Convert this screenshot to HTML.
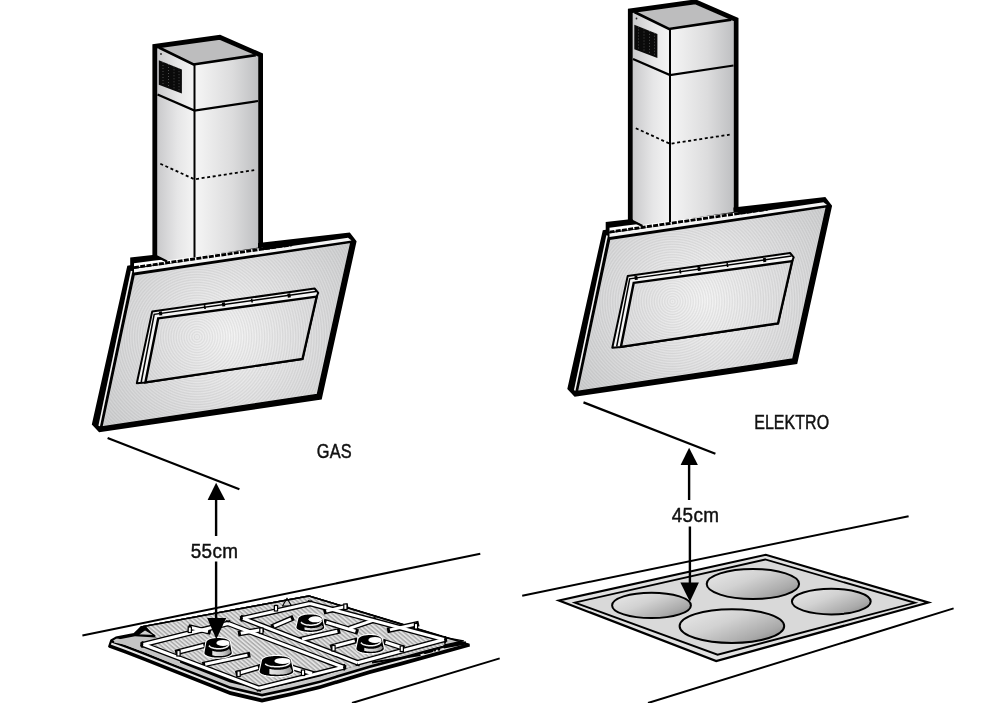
<!DOCTYPE html>
<html><head><meta charset="utf-8"><title>Hood installation</title>
<style>
html,body{margin:0;padding:0;background:#fff;width:993px;height:703px;overflow:hidden}
svg{display:block}
text{font-family:"Liberation Sans",sans-serif;fill:#111}
</style></head><body>
<svg width="993" height="703" viewBox="0 0 993 703">
<defs>
  <pattern id="hatch" patternUnits="userSpaceOnUse" width="3.2" height="3.2" patternTransform="rotate(40)">
    <rect width="3.2" height="3.2" fill="#e2e2e2"/><rect width="3.2" height="1.4" fill="#a9a9a9"/>
  </pattern>
  <linearGradient id="gBody" x1="0" y1="0" x2="1" y2="0">
    <stop offset="0" stop-color="#e8e8e8"/><stop offset="0.6" stop-color="#c8c8c8"/><stop offset="1" stop-color="#8c8c8c"/>
  </linearGradient>

  <linearGradient id="gLeft" x1="0" y1="0" x2="1" y2="0">
    <stop offset="0" stop-color="#c9c9cb"/><stop offset="0.55" stop-color="#e6e6e7"/><stop offset="1" stop-color="#f4f4f4"/>
  </linearGradient>
  <linearGradient id="gFront" x1="0" y1="0" x2="1" y2="0">
    <stop offset="0" stop-color="#f6f6f6"/><stop offset="0.6" stop-color="#dcdcdd"/><stop offset="1" stop-color="#bfc0c2"/>
  </linearGradient>
  <radialGradient id="gPanel" cx="230" cy="335" r="150" gradientUnits="userSpaceOnUse">
    <stop offset="0" stop-color="#f5f5f5"/><stop offset="0.5" stop-color="#e2e2e3"/><stop offset="1" stop-color="#d1d2d3"/>
  </radialGradient>
  <linearGradient id="gBurner" x1="0" y1="0.1" x2="1" y2="0.9">
    <stop offset="0" stop-color="#e8e8e8"/><stop offset="0.4" stop-color="#d2d2d2"/><stop offset="0.78" stop-color="#aaaaaa"/><stop offset="1" stop-color="#868686"/>
  </linearGradient>

  <radialGradient id="gRings" cx="197" cy="337" r="2.6" gradientUnits="userSpaceOnUse" spreadMethod="repeat">
    <stop offset="0" stop-color="#000" stop-opacity="0.07"/><stop offset="0.5" stop-color="#000" stop-opacity="0"/><stop offset="1" stop-color="#000" stop-opacity="0.07"/>
  </radialGradient>
  <g id="hood">
    <!-- panel silhouette -->
    <polygon points="130.2,257.6 349.8,232.4 356.6,241.3 321.7,399.5 99.1,432.3 91.8,424.4 127.3,265.7 130.2,265.3" fill="#000"/>
    <!-- white top strips -->
    <polygon points="134,263.2 153,260.8 263,247.8 263,252 134,267.5" fill="#fff"/>
    <polygon points="134,268.8 290,246.2 348,237.8 351.5,240.5 134,272.6" fill="#f4f4f4"/>
    <line x1="134" y1="267.6" x2="292" y2="244.8" stroke="#000" stroke-width="2.8" stroke-dasharray="5,1.3"/>
    <!-- chimney faces -->
    <polygon points="157,47 193.5,64.5 194.5,256.6 166.5,260.5 157,256" fill="url(#gLeft)"/>
    <polygon points="193.5,64.5 258,55 258,247.6 194.5,256.8" fill="url(#gFront)"/>
    <polygon points="158.9,47.5 218,38.7 255.8,55.1 193.5,64.5" fill="#bdbdbe"/>
    <!-- grille -->
    <polygon points="158.8,60.2 181.9,69.4 181.9,93.4 158.8,84.7" fill="#0a0a0a"/>
    <g stroke="#7a7a7a" stroke-width="0.6" stroke-dasharray="1,2">
      <line x1="163" y1="62" x2="163" y2="86"/>
      <line x1="168.5" y1="64" x2="168.5" y2="88"/>
      <line x1="174" y1="66.3" x2="174" y2="90.3"/>
      <line x1="179" y1="68.2" x2="179" y2="92.2"/>
    </g>
    <circle cx="161" cy="54" r="0.9" fill="#222"/>
    <!-- chimney outlines -->
    <polyline points="154.8,256.5 154.8,46.4 219.8,37.3 260.6,55 260.6,246" fill="none" stroke="#000" stroke-width="4.8" stroke-linejoin="miter"/>
    <line x1="156" y1="256" x2="167" y2="261.5" stroke="#000" stroke-width="2.2"/>
    <polyline points="158.9,47.5 193.5,64.5 255.8,55.1" fill="none" stroke="#000" stroke-width="2.6"/>
    <line x1="194.5" y1="64" x2="194.5" y2="257.5" stroke="#000" stroke-width="2"/>
    <polyline points="157.5,94.4 194.5,110.5 258,101" fill="none" stroke="#000" stroke-width="2.2"/>
    <polyline points="160.3,163.7 194.4,179.3 254.2,170.1" fill="none" stroke="#000" stroke-width="1.8" stroke-dasharray="3,2.6"/>
    <!-- white left line -->
    <line x1="131.6" y1="271" x2="99.2" y2="426" stroke="#f4f4f4" stroke-width="1.6"/>
    <!-- face -->
    <polygon points="134.1,274.6 351,242.3 317.4,394.6 101.7,427" fill="url(#gPanel)" stroke="#000" stroke-width="1.6"/>
    <polygon points="134.9,275.4 350,243.3 316.8,393.8 102.6,426.2" fill="url(#gRings)"/>
    <!-- window frame -->
    <polygon points="152.2,311.6 314.6,288.5 318.2,292.8 316.7,296.3 302.5,358.9 145.4,382.4 136.8,383.2" fill="#f4f4f4" stroke="#000" stroke-width="2" stroke-linejoin="round"/>
    <polygon points="158.2,318.4 316.7,296.6 302.5,358.9 145.4,382.4" fill="url(#gPanel)" stroke="#000" stroke-width="2.4"/>
    <polygon points="159.4,319.6 315.2,298 301.5,357.8 146.8,381" fill="url(#gRings)"/>
    <polyline points="141.2,382 154.2,314.3 316,291.6" fill="none" stroke="#000" stroke-width="1.5"/>
    <g fill="#000">
      <rect x="159" y="311.5" width="3" height="4" transform="rotate(-8 160 313)"/>
      <rect x="204" y="305" width="1.6" height="4" transform="rotate(-8 205 307)"/>
      <rect x="222" y="302.5" width="3" height="4" transform="rotate(-8 223 304)"/>
      <rect x="251" y="298.5" width="1.6" height="4" transform="rotate(-8 252 300)"/>
      <rect x="287.5" y="293.5" width="3" height="4" transform="rotate(-8 289 295)"/>
    </g>
  </g>
</defs>

<use href="#hood"/>
<use href="#hood" transform="translate(475.5,-35.5)"/>

<!-- lines under hoods -->
<line x1="107.6" y1="438" x2="239.4" y2="489.2" stroke="#000" stroke-width="2.2"/>
<line x1="583.5" y1="402.4" x2="715.4" y2="453.7" stroke="#000" stroke-width="2.2"/>

<!-- text -->
<g style="will-change:transform" font-size="19.5" stroke="#111" stroke-width="0.45">
<text transform="translate(316.8,457.6) scale(0.84,1)" textLength="41.6" lengthAdjust="spacing">GAS</text>
<text transform="translate(754.2,428.8) scale(0.82,1)" textLength="91.4" lengthAdjust="spacing">ELEKTRO</text>
<text transform="translate(190.8,557.6) scale(0.97,1)" textLength="48.6" lengthAdjust="spacing">55cm</text>
<text transform="translate(671.8,522.0) scale(0.97,1)" textLength="48.6" lengthAdjust="spacing">45cm</text>
</g>
<!-- countertop lines -->
<line x1="82.4" y1="635.5" x2="480.3" y2="553.8" stroke="#000" stroke-width="2"/>
<line x1="352" y1="703" x2="499.7" y2="658.4" stroke="#000" stroke-width="2"/>
<line x1="522.2" y1="595.7" x2="908.6" y2="516.2" stroke="#000" stroke-width="2"/>
<line x1="648" y1="703" x2="953.6" y2="608.4" stroke="#000" stroke-width="2"/>

<!-- electric hob -->
<polygon points="559,600.5 765.8,554.8 928.4,602.5 716.2,661" fill="#e2e2e2" stroke="#000" stroke-width="2.2" stroke-linejoin="miter"/>
<polygon points="574.8,602.6 765.2,559.5 915,602.8 717.6,654.7" fill="#d9d9d9" stroke="#000" stroke-width="1.8"/>
<ellipse cx="651.5" cy="605.4" rx="39.4" ry="12.7" fill="url(#gBurner)" stroke="#000" stroke-width="2"/>
<ellipse cx="752.9" cy="584" rx="46.2" ry="15" fill="url(#gBurner)" stroke="#000" stroke-width="2"/>
<ellipse cx="831.3" cy="601.6" rx="39.4" ry="12.8" fill="url(#gBurner)" stroke="#000" stroke-width="2"/>
<ellipse cx="731.9" cy="626.1" rx="52.3" ry="16.9" fill="url(#gBurner)" stroke="#000" stroke-width="2"/>

<g id="gas">
<clipPath id="hobclip"><polygon points="109.3,645.5 111.5,640.0 116.0,637.2 134.0,633.8 141.0,626.2 309.0,595.2 469.5,644.3 470.0,646.5 400.0,665.9 370.0,673.9 320.0,689.0 290.0,696.3 262.0,702.4 230.0,694.9 172.0,672.0 145.0,661.2 125.0,653.5 108.5,647.5"/></clipPath>
<polygon points="109.3,645.5 111.5,640.0 116.0,637.2 134.0,633.8 141.0,626.2 309.0,595.2 469.5,644.3 470.0,646.5 400.0,665.9 370.0,673.9 320.0,689.0 290.0,696.3 262.0,702.4 230.0,694.9 172.0,672.0 145.0,661.2 125.0,653.5 108.5,647.5" fill="#000"/>
<g clip-path="url(#hobclip)">
<polygon points="109.3,645.5 111.5,640.0 116.0,637.2 134.0,633.8 141.0,626.2 309.0,595.2 469.5,644.3 470.0,646.5 400.0,665.9 370.0,673.9 320.0,689.0 290.0,696.3 262.0,702.4 230.0,694.9 172.0,672.0 145.0,661.2 125.0,653.5 108.5,647.5" transform="translate(0,-3.8)" fill="#e6e6e6"/>
<polygon points="109.3,645.5 111.5,640.0 116.0,637.2 134.0,633.8 141.0,626.2 309.0,595.2 469.5,644.3 470.0,646.5 400.0,665.9 370.0,673.9 320.0,689.0 290.0,696.3 262.0,702.4 230.0,694.9 172.0,672.0 145.0,661.2 125.0,653.5 108.5,647.5" transform="translate(0,-5.9)" fill="#000"/>
<polygon points="109.3,645.5 111.5,640.0 116.0,637.2 134.0,633.8 141.0,626.2 309.0,595.2 469.5,644.3 470.0,646.5 400.0,665.9 370.0,673.9 320.0,689.0 290.0,696.3 262.0,702.4 230.0,694.9 172.0,672.0 145.0,661.2 125.0,653.5 108.5,647.5" transform="translate(0,-8.6)" fill="#c9c9c9"/>
<polygon points="109.3,645.5 111.5,640.0 116.0,637.2 134.0,633.8 141.0,626.2 309.0,595.2 469.5,644.3 470.0,646.5 400.0,665.9 370.0,673.9 320.0,689.0 290.0,696.3 262.0,702.4 230.0,694.9 172.0,672.0 145.0,661.2 125.0,653.5 108.5,647.5" transform="translate(0,-12.5)" fill="#000"/>
<polygon points="146.0,626.5 309.0,596.8 455.0,641.5 452.0,643.5 261.0,688.5 143.0,644.0 156.0,637.5" fill="url(#hatch)"/>
</g>
<polygon points="114.0,641.5 117.0,639.8 135.0,636.2 139.0,636.5 156.0,637.6 150.0,641.0 143.0,645.0 180.0,658.5 180.0,666.4 145.0,652.4 125.0,644.7 114.0,642.5" fill="#c4c4c4"/>
<polyline points="109.0,647.0 111.2,640.5 116.0,637.6 134.0,634.2 141.5,627.3" fill="none" stroke="#000" stroke-width="2.2" stroke-linejoin="round"/>
<polygon points="137.9,634.8 145,629.8 154.8,635.6" fill="#cfcfcf" stroke="#000" stroke-width="1.2" stroke-linejoin="round"/>
<polygon points="444.5,637.5 463.5,640.8 445,644.8" fill="#c8c8c8" stroke="#000" stroke-width="1.3" stroke-linejoin="round"/>
<polygon points="282.5,606 287,598.2 291.5,606" fill="#cfcfcf" stroke="#000" stroke-width="1.1" stroke-linejoin="round"/>
<polyline points="141.0,627.0 309.0,596.0 469.5,644.6" fill="none" stroke="#000" stroke-width="1.6"/>
<line x1="143.5" y1="644.5" x2="228.0" y2="623.5" stroke="#000" stroke-width="5.6" stroke-linecap="square"/>
<line x1="228.0" y1="623.5" x2="343.0" y2="667.2" stroke="#000" stroke-width="5.6" stroke-linecap="square"/>
<line x1="343.0" y1="667.2" x2="259.0" y2="688.3" stroke="#000" stroke-width="5.6" stroke-linecap="square"/>
<line x1="259.0" y1="688.3" x2="143.5" y2="644.5" stroke="#000" stroke-width="5.6" stroke-linecap="square"/>
<line x1="243.0" y1="618.4" x2="310.0" y2="603.5" stroke="#000" stroke-width="5.6" stroke-linecap="square"/>
<line x1="310.0" y1="603.5" x2="444.0" y2="639.5" stroke="#000" stroke-width="5.6" stroke-linecap="square"/>
<line x1="444.0" y1="639.5" x2="357.7" y2="662.8" stroke="#000" stroke-width="5.6" stroke-linecap="square"/>
<line x1="357.7" y1="662.8" x2="243.0" y2="618.4" stroke="#000" stroke-width="5.6" stroke-linecap="square"/>
<line x1="191.0" y1="627.5" x2="208.0" y2="631.5" stroke="#000" stroke-width="5.6" stroke-linecap="square"/>
<line x1="178.0" y1="652.0" x2="203.5" y2="645.5" stroke="#000" stroke-width="5.6" stroke-linecap="square"/>
<line x1="240.8" y1="633.2" x2="261.0" y2="629.7" stroke="#000" stroke-width="5.6" stroke-linecap="square"/>
<line x1="205.2" y1="664.2" x2="247.5" y2="655.1" stroke="#000" stroke-width="5.6" stroke-linecap="square"/>
<line x1="238.4" y1="673.2" x2="258.0" y2="667.5" stroke="#000" stroke-width="5.6" stroke-linecap="square"/>
<line x1="274.0" y1="626.1" x2="291.0" y2="618.8" stroke="#000" stroke-width="5.6" stroke-linecap="square"/>
<line x1="326.3" y1="611.1" x2="345.4" y2="606.6" stroke="#000" stroke-width="5.6" stroke-linecap="square"/>
<line x1="349.5" y1="628.3" x2="373.6" y2="620.2" stroke="#000" stroke-width="5.6" stroke-linecap="square"/>
<line x1="302.1" y1="639.3" x2="337.4" y2="631.3" stroke="#000" stroke-width="5.6" stroke-linecap="square"/>
<line x1="333.0" y1="646.7" x2="354.8" y2="640.9" stroke="#000" stroke-width="5.6" stroke-linecap="square"/>
<line x1="385.5" y1="642.3" x2="401.6" y2="647.5" stroke="#000" stroke-width="5.6" stroke-linecap="square"/>
<line x1="389.9" y1="629.9" x2="416.2" y2="624.1" stroke="#000" stroke-width="5.6" stroke-linecap="square"/>
<line x1="326.3" y1="622.2" x2="355.5" y2="631.3" stroke="#000" stroke-width="5.6" stroke-linecap="square"/>
<line x1="292.0" y1="667.5" x2="312.0" y2="673.5" stroke="#000" stroke-width="5.6" stroke-linecap="square"/>
<line x1="143.5" y1="644.5" x2="228.0" y2="623.5" stroke="#fff" stroke-width="3.0" stroke-linecap="butt"/>
<line x1="228.0" y1="623.5" x2="343.0" y2="667.2" stroke="#fff" stroke-width="3.0" stroke-linecap="butt"/>
<line x1="343.0" y1="667.2" x2="259.0" y2="688.3" stroke="#fff" stroke-width="3.0" stroke-linecap="butt"/>
<line x1="259.0" y1="688.3" x2="143.5" y2="644.5" stroke="#fff" stroke-width="3.0" stroke-linecap="butt"/>
<line x1="243.0" y1="618.4" x2="310.0" y2="603.5" stroke="#fff" stroke-width="3.0" stroke-linecap="butt"/>
<line x1="310.0" y1="603.5" x2="444.0" y2="639.5" stroke="#fff" stroke-width="3.0" stroke-linecap="butt"/>
<line x1="444.0" y1="639.5" x2="357.7" y2="662.8" stroke="#fff" stroke-width="3.0" stroke-linecap="butt"/>
<line x1="357.7" y1="662.8" x2="243.0" y2="618.4" stroke="#fff" stroke-width="3.0" stroke-linecap="butt"/>
<line x1="191.0" y1="627.5" x2="208.0" y2="631.5" stroke="#fff" stroke-width="3.0" stroke-linecap="butt"/>
<line x1="178.0" y1="652.0" x2="203.5" y2="645.5" stroke="#fff" stroke-width="3.0" stroke-linecap="butt"/>
<line x1="240.8" y1="633.2" x2="261.0" y2="629.7" stroke="#fff" stroke-width="3.0" stroke-linecap="butt"/>
<line x1="205.2" y1="664.2" x2="247.5" y2="655.1" stroke="#fff" stroke-width="3.0" stroke-linecap="butt"/>
<line x1="238.4" y1="673.2" x2="258.0" y2="667.5" stroke="#fff" stroke-width="3.0" stroke-linecap="butt"/>
<line x1="274.0" y1="626.1" x2="291.0" y2="618.8" stroke="#fff" stroke-width="3.0" stroke-linecap="butt"/>
<line x1="326.3" y1="611.1" x2="345.4" y2="606.6" stroke="#fff" stroke-width="3.0" stroke-linecap="butt"/>
<line x1="349.5" y1="628.3" x2="373.6" y2="620.2" stroke="#fff" stroke-width="3.0" stroke-linecap="butt"/>
<line x1="302.1" y1="639.3" x2="337.4" y2="631.3" stroke="#fff" stroke-width="3.0" stroke-linecap="butt"/>
<line x1="333.0" y1="646.7" x2="354.8" y2="640.9" stroke="#fff" stroke-width="3.0" stroke-linecap="butt"/>
<line x1="385.5" y1="642.3" x2="401.6" y2="647.5" stroke="#fff" stroke-width="3.0" stroke-linecap="butt"/>
<line x1="389.9" y1="629.9" x2="416.2" y2="624.1" stroke="#fff" stroke-width="3.0" stroke-linecap="butt"/>
<line x1="326.3" y1="622.2" x2="355.5" y2="631.3" stroke="#fff" stroke-width="3.0" stroke-linecap="butt"/>
<line x1="292.0" y1="667.5" x2="312.0" y2="673.5" stroke="#fff" stroke-width="3.0" stroke-linecap="butt"/>
<rect x="188.2" y="627.0" width="3.2" height="5.5" fill="#fff" stroke="#000" stroke-width="1.2"/>
<rect x="176.9" y="650.5" width="3.2" height="5.5" fill="#fff" stroke="#000" stroke-width="1.2"/>
<rect x="237.0" y="671.0" width="3.2" height="5.5" fill="#fff" stroke="#000" stroke-width="1.2"/>
<rect x="301.4" y="670.0" width="3.2" height="5.5" fill="#fff" stroke="#000" stroke-width="1.2"/>
<rect x="414.4" y="623.5" width="3.2" height="5.5" fill="#fff" stroke="#000" stroke-width="1.2"/>
<rect x="259.8" y="628.0" width="3.2" height="5.5" fill="#fff" stroke="#000" stroke-width="1.2"/>
<rect x="343.8" y="604.0" width="3.2" height="5.5" fill="#fff" stroke="#000" stroke-width="1.2"/>
<rect x="274.4" y="605.5" width="3.2" height="5.5" fill="#fff" stroke="#000" stroke-width="1.2"/>
<rect x="331.9" y="645.5" width="3.2" height="5.5" fill="#fff" stroke="#000" stroke-width="1.2"/>
<rect x="400.2" y="646.0" width="3.2" height="5.5" fill="#fff" stroke="#000" stroke-width="1.2"/>
<polygon points="205.2,642.6 205.3,642.1 205.4,641.6 205.7,641.1 206.0,640.7 206.4,640.2 206.9,639.8 207.5,639.3 208.2,638.9 209.0,638.6 209.8,638.2 210.7,637.9 211.7,637.7 212.7,637.4 213.7,637.2 214.8,637.1 215.9,637.0 217.0,636.9 218.1,636.9 219.2,636.9 220.3,637.0 221.4,637.1 222.5,637.2 223.5,637.4 224.5,637.7 225.5,637.9 226.4,638.2 227.2,638.6 228.0,638.9 228.7,639.3 229.3,639.8 229.8,640.2 230.2,640.7 230.5,641.1 230.8,641.6 230.9,642.1 231.0,642.6 232.9,653.0 232.8,653.5 232.7,654.0 232.4,654.5 232.0,654.9 231.5,655.4 230.9,655.9 230.2,656.3 229.4,656.7 228.6,657.0 227.6,657.4 226.6,657.7 225.5,657.9 224.4,658.2 223.2,658.4 221.9,658.5 220.7,658.6 219.4,658.7 218.1,658.7 216.8,658.7 215.5,658.6 214.3,658.5 213.0,658.4 211.8,658.2 210.7,657.9 209.6,657.7 208.6,657.4 207.6,657.0 206.8,656.7 206.0,656.3 205.3,655.9 204.7,655.4 204.2,654.9 203.8,654.5 203.5,654.0 203.4,653.5 203.3,653.0" fill="#fff"/>
<polygon points="206.3,642.6 206.4,642.2 206.5,641.8 206.7,641.4 207.0,641.0 207.4,640.7 207.9,640.3 208.4,640.0 209.1,639.6 209.8,639.3 210.5,639.1 211.3,638.8 212.2,638.6 213.1,638.4 214.1,638.3 215.1,638.2 216.1,638.1 217.1,638.0 218.1,638.0 219.1,638.0 220.1,638.1 221.1,638.2 222.1,638.3 223.1,638.4 224.0,638.6 224.9,638.8 225.7,639.1 226.4,639.3 227.1,639.6 227.8,640.0 228.3,640.3 228.8,640.7 229.2,641.0 229.5,641.4 229.7,641.8 229.8,642.2 229.9,642.6 231.8,653.0 231.7,653.4 231.6,653.8 231.3,654.2 231.0,654.6 230.5,654.9 230.0,655.3 229.3,655.6 228.6,656.0 227.8,656.3 226.9,656.5 226.0,656.8 225.0,657.0 223.9,657.2 222.8,657.3 221.6,657.4 220.5,657.5 219.3,657.6 218.1,657.6 216.9,657.6 215.7,657.5 214.6,657.4 213.4,657.3 212.3,657.2 211.3,657.0 210.2,656.8 209.3,656.5 208.4,656.3 207.6,656.0 206.9,655.6 206.2,655.3 205.7,654.9 205.2,654.6 204.9,654.2 204.6,653.8 204.5,653.4 204.4,653.0" fill="#000"/>
<polygon points="212.3,650.7 213.2,651.0 214.0,651.2 214.9,651.4 215.7,651.6 216.5,651.7 217.4,651.7 218.2,651.8 219.0,651.8 219.9,651.8 220.7,651.7 221.5,651.7 222.4,651.6 223.2,651.4 224.0,651.3 224.9,651.1 225.7,650.8 226.6,650.5 227.4,650.1 228.2,649.5 229.1,648.8 230.8,652.1 229.9,653.5 229.0,654.1 228.1,654.6 227.1,655.0 226.2,655.2 225.3,655.5 224.4,655.7 223.4,655.8 222.5,655.9 221.6,656.0 220.7,656.1 219.7,656.1 218.8,656.1 217.9,656.1 217.0,656.0 216.0,656.0 215.1,655.9 214.2,655.7 213.3,655.5 212.3,655.3" fill="url(#gBody)"/>
<polyline points="208.9,645.6 209.8,646.5 210.6,647.1 211.5,647.5 212.3,647.8 213.2,648.1 214.0,648.3 214.9,648.5 215.7,648.6 216.6,648.7 217.4,648.8 218.3,648.8 219.1,648.8 220.0,648.8 220.8,648.7 221.6,648.6 222.5,648.4 223.3,648.3 224.2,648.0 225.0,647.8 225.9,647.4 226.7,647.0 227.6,646.4 228.4,645.4 229.3,644.2" fill="none" stroke="#f2f2f2" stroke-width="1.5"/>
<ellipse cx="223.0" cy="642.9" rx="6.6" ry="3.0" fill="#fff"/>
<polygon points="260.9,660.6 260.9,660.1 261.1,659.6 261.4,659.1 261.8,658.7 262.3,658.2 262.9,657.8 263.7,657.3 264.5,656.9 265.4,656.6 266.4,656.2 267.5,655.9 268.7,655.7 269.9,655.4 271.1,655.2 272.4,655.1 273.7,655.0 275.1,654.9 276.5,654.9 277.8,654.9 279.2,655.0 280.5,655.1 281.8,655.2 283.0,655.4 284.2,655.7 285.4,655.9 286.5,656.2 287.5,656.6 288.4,656.9 289.2,657.3 290.0,657.8 290.6,658.2 291.1,658.7 291.5,659.1 291.8,659.6 292.0,660.1 292.0,660.6 294.4,671.6 294.3,672.1 294.1,672.6 293.8,673.1 293.3,673.5 292.7,674.0 292.0,674.5 291.2,674.9 290.2,675.3 289.1,675.6 288.0,676.0 286.7,676.3 285.4,676.5 284.0,676.8 282.6,677.0 281.1,677.1 279.6,677.2 278.0,677.3 276.5,677.3 274.9,677.3 273.3,677.2 271.8,677.1 270.3,677.0 268.9,676.8 267.5,676.5 266.2,676.3 264.9,676.0 263.8,675.6 262.7,675.3 261.7,674.9 260.9,674.5 260.2,674.0 259.6,673.5 259.1,673.1 258.8,672.6 258.6,672.1 258.5,671.6" fill="#fff"/>
<polygon points="262.0,660.6 262.0,660.2 262.2,659.8 262.5,659.4 262.8,659.0 263.3,658.7 263.9,658.3 264.6,658.0 265.3,657.6 266.2,657.3 267.1,657.1 268.1,656.8 269.2,656.6 270.3,656.4 271.5,656.3 272.7,656.2 273.9,656.1 275.2,656.0 276.5,656.0 277.7,656.0 279.0,656.1 280.2,656.2 281.4,656.3 282.6,656.4 283.7,656.6 284.8,656.8 285.8,657.1 286.7,657.3 287.6,657.6 288.3,658.0 289.0,658.3 289.6,658.7 290.1,659.0 290.4,659.4 290.7,659.8 290.9,660.2 290.9,660.6 293.3,671.6 293.2,672.0 293.0,672.4 292.7,672.8 292.3,673.2 291.7,673.5 291.0,673.9 290.3,674.2 289.4,674.6 288.4,674.9 287.3,675.1 286.1,675.4 284.9,675.6 283.6,675.8 282.2,675.9 280.8,676.0 279.4,676.1 277.9,676.2 276.5,676.2 275.0,676.2 273.5,676.1 272.1,676.0 270.7,675.9 269.3,675.8 268.0,675.6 266.8,675.4 265.6,675.1 264.5,674.9 263.5,674.6 262.6,674.2 261.9,673.9 261.2,673.5 260.6,673.2 260.2,672.8 259.9,672.4 259.7,672.0 259.6,671.6" fill="#000"/>
<polygon points="269.4,668.9 270.4,669.1 271.4,669.3 272.5,669.5 273.5,669.6 274.5,669.7 275.5,669.8 276.6,669.8 277.6,669.8 278.6,669.8 279.6,669.7 280.7,669.7 281.7,669.6 282.7,669.4 283.8,669.2 284.8,669.0 285.8,668.8 286.8,668.5 287.9,668.1 288.9,667.5 289.9,666.8 292.1,670.7 291.0,672.2 289.8,672.8 288.7,673.3 287.6,673.6 286.4,673.9 285.3,674.1 284.2,674.3 283.0,674.4 281.9,674.5 280.7,674.6 279.6,674.7 278.5,674.7 277.3,674.7 276.2,674.7 275.1,674.6 273.9,674.6 272.8,674.5 271.6,674.4 270.5,674.2 269.4,674.0" fill="url(#gBody)"/>
<polyline points="265.1,664.0 266.2,664.7 267.2,665.2 268.3,665.6 269.3,665.9 270.4,666.2 271.4,666.4 272.5,666.5 273.5,666.6 274.5,666.7 275.6,666.8 276.6,666.8 277.7,666.8 278.7,666.8 279.8,666.7 280.8,666.6 281.9,666.5 282.9,666.3 283.9,666.1 285.0,665.8 286.0,665.5 287.1,665.0 288.1,664.5 289.2,663.7 290.2,662.2" fill="none" stroke="#f2f2f2" stroke-width="1.5"/>
<ellipse cx="282.5" cy="660.9" rx="8.1" ry="3.0" fill="#fff"/>
<polygon points="297.2,619.0 297.3,618.5 297.4,618.0 297.7,617.5 298.0,617.1 298.5,616.6 299.0,616.1 299.6,615.7 300.3,615.3 301.1,615.0 301.9,614.6 302.8,614.3 303.8,614.1 304.8,613.8 305.8,613.6 306.9,613.5 308.0,613.4 309.2,613.3 310.3,613.3 311.4,613.3 312.6,613.4 313.7,613.5 314.8,613.6 315.8,613.8 316.8,614.1 317.8,614.3 318.7,614.6 319.5,615.0 320.3,615.3 321.0,615.7 321.6,616.1 322.1,616.6 322.6,617.1 322.9,617.5 323.2,618.0 323.3,618.5 323.4,619.0 325.3,627.3 325.2,627.8 325.1,628.3 324.8,628.8 324.4,629.2 323.9,629.7 323.3,630.1 322.6,630.6 321.8,631.0 320.9,631.3 319.9,631.7 318.9,632.0 317.8,632.2 316.6,632.5 315.4,632.7 314.2,632.8 312.9,632.9 311.6,633.0 310.3,633.0 309.0,633.0 307.7,632.9 306.4,632.8 305.2,632.7 304.0,632.5 302.8,632.2 301.7,632.0 300.7,631.7 299.7,631.3 298.8,631.0 298.0,630.6 297.3,630.1 296.7,629.7 296.2,629.2 295.8,628.8 295.5,628.3 295.4,627.8 295.3,627.3" fill="#fff"/>
<polygon points="298.3,619.0 298.4,618.6 298.5,618.2 298.8,617.8 299.1,617.4 299.5,617.1 299.9,616.7 300.5,616.4 301.1,616.0 301.8,615.7 302.6,615.5 303.4,615.2 304.3,615.0 305.2,614.8 306.2,614.7 307.2,614.6 308.2,614.5 309.3,614.4 310.3,614.4 311.3,614.4 312.4,614.5 313.4,614.6 314.4,614.7 315.4,614.8 316.3,615.0 317.2,615.2 318.0,615.5 318.8,615.7 319.5,616.0 320.1,616.4 320.7,616.7 321.1,617.1 321.5,617.4 321.8,617.8 322.1,618.2 322.2,618.6 322.3,619.0 324.2,627.3 324.1,627.7 324.0,628.1 323.7,628.5 323.4,628.9 322.9,629.2 322.3,629.6 321.7,629.9 320.9,630.3 320.1,630.6 319.2,630.8 318.3,631.1 317.2,631.3 316.2,631.5 315.1,631.6 313.9,631.7 312.7,631.8 311.5,631.9 310.3,631.9 309.1,631.9 307.9,631.8 306.7,631.7 305.5,631.6 304.4,631.5 303.3,631.3 302.3,631.1 301.4,630.8 300.5,630.6 299.7,630.3 298.9,629.9 298.3,629.6 297.7,629.2 297.2,628.9 296.9,628.5 296.6,628.1 296.5,627.7 296.4,627.3" fill="#000"/>
<polygon points="304.5,627.2 305.3,627.4 306.2,627.6 307.0,627.8 307.9,628.0 308.7,628.1 309.5,628.1 310.4,628.2 311.2,628.2 312.1,628.2 312.9,628.1 313.8,628.1 314.6,628.0 315.5,627.8 316.3,627.7 317.2,627.5 318.0,627.2 318.9,626.9 319.7,626.5 320.6,625.9 321.4,625.2 323.2,626.4 322.3,627.8 321.4,628.4 320.4,628.9 319.5,629.3 318.5,629.5 317.6,629.8 316.7,630.0 315.7,630.1 314.8,630.2 313.8,630.3 312.9,630.4 312.0,630.4 311.0,630.4 310.1,630.4 309.2,630.3 308.2,630.3 307.3,630.2 306.3,630.0 305.4,629.9 304.5,629.6" fill="url(#gBody)"/>
<polyline points="301.0,622.1 301.8,622.9 302.7,623.5 303.6,623.9 304.4,624.2 305.3,624.5 306.1,624.7 307.0,624.9 307.9,625.0 308.7,625.1 309.6,625.2 310.5,625.2 311.3,625.2 312.2,625.2 313.0,625.1 313.9,625.0 314.8,624.8 315.6,624.7 316.5,624.4 317.3,624.2 318.2,623.8 319.1,623.4 319.9,622.8 320.8,621.8 321.7,620.6" fill="none" stroke="#f2f2f2" stroke-width="1.5"/>
<ellipse cx="315.3" cy="619.3" rx="6.7" ry="3.0" fill="#fff"/>
<polygon points="357.2,639.6 357.3,639.1 357.4,638.6 357.7,638.1 358.0,637.7 358.4,637.2 358.9,636.8 359.5,636.3 360.2,635.9 361.0,635.6 361.8,635.2 362.7,634.9 363.7,634.7 364.7,634.4 365.7,634.2 366.8,634.1 367.9,634.0 369.0,633.9 370.1,633.9 371.2,633.9 372.3,634.0 373.4,634.1 374.5,634.2 375.5,634.4 376.5,634.7 377.5,634.9 378.4,635.2 379.2,635.6 380.0,635.9 380.7,636.3 381.3,636.8 381.8,637.2 382.2,637.7 382.5,638.1 382.8,638.6 382.9,639.1 383.0,639.6 384.9,648.6 384.8,649.1 384.7,649.6 384.4,650.1 384.0,650.5 383.5,651.0 382.9,651.5 382.2,651.9 381.4,652.3 380.6,652.6 379.6,653.0 378.6,653.3 377.5,653.5 376.4,653.8 375.2,654.0 373.9,654.1 372.7,654.2 371.4,654.3 370.1,654.3 368.8,654.3 367.5,654.2 366.3,654.1 365.0,654.0 363.8,653.8 362.7,653.5 361.6,653.3 360.6,653.0 359.6,652.6 358.8,652.3 358.0,651.9 357.3,651.5 356.7,651.0 356.2,650.5 355.8,650.1 355.5,649.6 355.4,649.1 355.3,648.6" fill="#fff"/>
<polygon points="358.3,639.6 358.4,639.2 358.5,638.8 358.7,638.4 359.0,638.0 359.4,637.7 359.9,637.3 360.4,637.0 361.1,636.6 361.8,636.3 362.5,636.1 363.3,635.8 364.2,635.6 365.1,635.4 366.1,635.3 367.1,635.2 368.1,635.1 369.1,635.0 370.1,635.0 371.1,635.0 372.1,635.1 373.1,635.2 374.1,635.3 375.1,635.4 376.0,635.6 376.9,635.8 377.7,636.1 378.4,636.3 379.1,636.6 379.8,637.0 380.3,637.3 380.8,637.7 381.2,638.0 381.5,638.4 381.7,638.8 381.8,639.2 381.9,639.6 383.8,648.6 383.7,649.0 383.6,649.4 383.3,649.8 383.0,650.2 382.5,650.5 382.0,650.9 381.3,651.2 380.6,651.6 379.8,651.9 378.9,652.1 378.0,652.4 377.0,652.6 375.9,652.8 374.8,652.9 373.6,653.0 372.5,653.1 371.3,653.2 370.1,653.2 368.9,653.2 367.7,653.1 366.6,653.0 365.4,652.9 364.3,652.8 363.2,652.6 362.2,652.4 361.3,652.1 360.4,651.9 359.6,651.6 358.9,651.2 358.2,650.9 357.7,650.5 357.2,650.2 356.9,649.8 356.6,649.4 356.5,649.0 356.4,648.6" fill="#000"/>
<polygon points="364.3,647.7 365.2,648.0 366.0,648.2 366.9,648.4 367.7,648.6 368.5,648.7 369.4,648.7 370.2,648.8 371.0,648.8 371.9,648.8 372.7,648.7 373.5,648.7 374.4,648.6 375.2,648.4 376.0,648.3 376.9,648.1 377.7,647.8 378.6,647.5 379.4,647.1 380.2,646.5 381.1,645.8 382.8,647.7 381.9,649.1 381.0,649.7 380.1,650.2 379.1,650.6 378.2,650.8 377.3,651.1 376.4,651.3 375.4,651.4 374.5,651.5 373.6,651.6 372.7,651.7 371.7,651.7 370.8,651.7 369.9,651.7 369.0,651.6 368.0,651.6 367.1,651.5 366.2,651.3 365.3,651.1 364.3,650.9" fill="url(#gBody)"/>
<polyline points="360.9,642.6 361.8,643.5 362.6,644.1 363.5,644.5 364.3,644.8 365.2,645.1 366.0,645.3 366.9,645.5 367.7,645.6 368.6,645.7 369.4,645.8 370.3,645.8 371.1,645.8 372.0,645.8 372.8,645.7 373.6,645.6 374.5,645.4 375.3,645.3 376.2,645.0 377.0,644.8 377.9,644.4 378.7,644.0 379.6,643.4 380.4,642.4 381.3,641.2" fill="none" stroke="#f2f2f2" stroke-width="1.5"/>
<ellipse cx="375.0" cy="639.9" rx="6.6" ry="3.0" fill="#fff"/>
<line x1="372" y1="662.5" x2="420.5" y2="655" stroke="#000" stroke-width="2.2"/>
<line x1="425" y1="652.6" x2="432" y2="651" stroke="#000" stroke-width="2.8" stroke-linecap="round"/>
<circle cx="434.8" cy="650.4" r="1.2" fill="#000"/>
<circle cx="438.9" cy="649.4" r="1.3" fill="#000"/>
<line x1="443.5" y1="646.8" x2="466" y2="642.8" stroke="#000" stroke-width="3.2"/>
</g>
<!-- arrows -->
<line x1="216.1" y1="498" x2="216.1" y2="536" stroke="#000" stroke-width="2.4"/>
<polygon points="216.1,482.8 207.6,500.1 225.1,500.1" fill="#000"/>
<line x1="216.1" y1="561.5" x2="216.1" y2="620" stroke="#000" stroke-width="2.4"/>
<polygon points="216.3,639.2 207.2,618 226.2,618" fill="#000"/>

<line x1="689.1" y1="463" x2="689.1" y2="500" stroke="#000" stroke-width="2.4"/>
<polygon points="689.1,447.8 680.6,465.1 697.9,465.1" fill="#000"/>
<line x1="689.9" y1="526.5" x2="689.9" y2="584" stroke="#000" stroke-width="2.4"/>
<polygon points="689.9,601.7 680.4,582.4 698.9,582.4" fill="#000"/>

</svg>
</body></html>
